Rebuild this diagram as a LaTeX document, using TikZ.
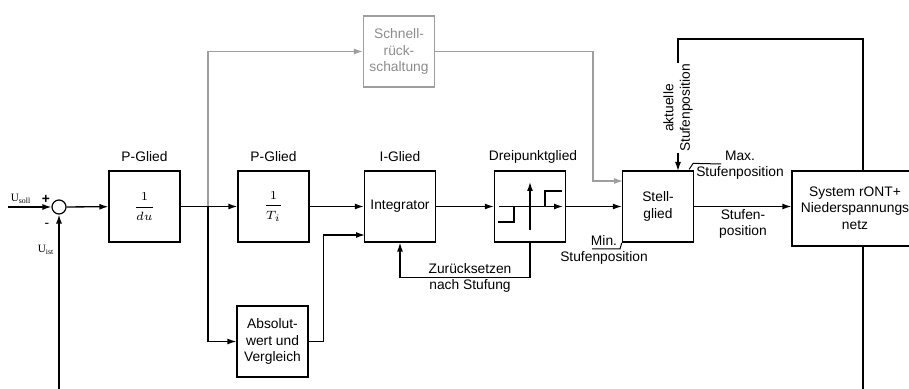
\documentclass[tikz,border=0pt]{standalone}
\usepackage{fontspec}
\setmainfont{Liberation Sans}
\newfontfamily\timesf{Liberation Serif}
\usetikzlibrary{arrows.meta}
\begin{document}
\begin{tikzpicture}[x=0.5pt,y=-0.5pt,
  every node/.style={font=\fontsize{6.9}{8.2}\selectfont, inner sep=0pt},
  blk/.style={draw, line width=0.65pt, minimum width=35.5pt, minimum height=35.5pt, align=center},
  gblk/.style={blk, draw=black!38, text=black!45},
  conn/.style={line width=0.65pt, -{Latex[length=4.5pt,width=3pt]}},
  plain/.style={line width=0.65pt},
  thin/.style={line width=0.5pt},
  gconn/.style={line width=0.6pt, draw=black!38, -{Latex[length=4.5pt,width=3pt]}},
  frac/.style={font=\fontsize{6}{7}\selectfont},
  sub/.style={font=\timesf\fontsize{5.6}{6.5}\selectfont}
]
\useasboundingbox (0,0) rectangle (909,389);
\clip (0,0) rectangle (909,389);

% summing point and inputs
\node[draw, circle, minimum size=7pt, line width=0.6pt] (sum) at (59,207) {};
\coordinate (usollin) at (8,207);
\coordinate (uistin) at (59,389);
\node[sub] (usoll) at (21,199) {U\textsubscript{soll}};
\node[sub] (uist) at (46,250) {U\textsubscript{ist}};
\node (plus) at (46,199) {\textbf{+}};
\node (minus) at (47,225) {-};

% blocks
\node[blk, frac] (p1) at (144.5,206.5) {$\displaystyle\frac{1}{du}$};
\node (p1l) at (144.5,157) {P-Glied};
\node[blk, frac] (p2) at (273.5,206.5) {$\displaystyle\frac{1}{T_i}$};
\node (p2l) at (273.5,157) {P-Glied};
\node[blk] (integ) at (400,206.5) {Integrator};
\node (integl) at (400,157) {I-Glied};
\node[blk] (drei) at (530,206.5) {};
\node (dreil) at (533,157) {Dreipunktglied};
\node[blk] (stell) at (658,206.5) {Stell-\\glied};
\node[blk] (abs) at (272.5,341.5) {Absolut-\\wert und\\Vergleich};
\node[gblk] (schnell) at (399,51.5) {Schnell-\\rück-\\schaltung};
\node[draw, line width=0.65pt, minimum width=66.5pt, minimum height=37.5pt] (sys) at (858.5,208.5) {};
\node[align=center] (systxt) at (855,208) {System rONT+\\Niederspannungs\\netz};

% ports
\coordinate (br) at (208,206.5);
\coordinate (integin2) at (365,235);
\coordinate (stellin1) at (623,181);
\coordinate (stellin3) at (678,171);
\coordinate (sysout) at (863,171);
\coordinate (sysbot) at (863,246);
\coordinate (sysend) at (863,389);

% main path
\draw[conn] (usollin) -- (sum);
\draw[conn] (uistin) -- (sum);
\draw[conn] (sum) -- (p1);
\draw[conn] (p1) -- (p2);
\draw[conn] (br) |- (abs);
\draw[gconn] (br) |- (schnell);
\draw[conn] (p2) -- (integ);
\draw[conn] (abs.east) -- ++(14.5,0) |- (integin2);
\draw[conn] (integ) -- (drei);
\draw[conn] (drei) -- (stell);
\draw[conn] (drei.south) -- ++(0,35) -| (integ.south);
\node[align=center] (zur) at (470,278) {Zurücksetzen\\nach Stufung};
\draw[gconn] (schnell.east) -- (593,51.5) |- (stellin1);
\draw[conn] (stell.east) -- (stell.east -| sys.west);
\node[align=center] (stufpos) at (743,224) {Stufen-\\position};
\draw[conn] (sysout) -- (863,39) -| (stellin3);
\draw[plain] (sysbot) -- (sysend);
\node[rotate=90, fill=white, align=center, inner sep=0.6pt] (akt) at (678,108) {aktuelle\\Stufenposition};

% max / min labels
\draw[thin] (stell.north east) ++(-5,-1) -- ++(4,-6) -- (721,164);
\node[align=center] (max) at (740,165) {Max.\\Stufenposition};
\draw[thin] (592,249) -- (620,249) -- (stell.south west);
\node[align=center] (min) at (604,250) {Min.\\Stufenposition};

% three-point characteristic
\draw[conn] (499,206.5) -- (563,206.5);
\draw[conn] (530,230) -- (530,182);
\draw[plain] (498,222) -| (514,206.5);
\draw[plain] (545,206.5) |- (562,191);
\end{tikzpicture}
\end{document}
